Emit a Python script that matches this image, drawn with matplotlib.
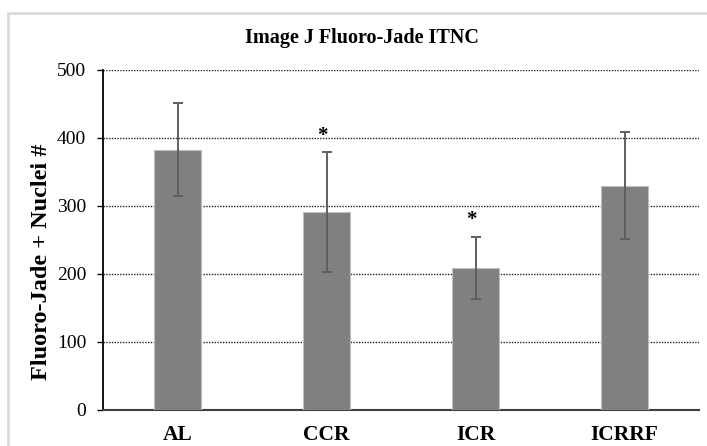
import matplotlib
matplotlib.use("Agg")
import matplotlib.pyplot as plt
from matplotlib.patches import Rectangle
import numpy as np

categories = ["AL", "CCR", "ICR", "ICRRF"]
means = [383, 291, 209, 330]
errors = [69, 88, 46, 79]
significant = [False, True, True, False]
yticks = [0, 100, 200, 300, 400, 500]

title = "Image J Fluoro-Jade ITNC"
ylabel = "Fluoro-Jade + Nuclei #"

plt.rcParams['font.family'] = ['Liberation Serif', 'DejaVu Serif']

fig = plt.figure(figsize=(7.07, 4.46), dpi=100)
ax = fig.add_axes([103/707, 36/446, 596/707, 340/446])

x = np.arange(len(categories))
ax.bar(x, means, width=0.315, color='#808080', edgecolor='#bfbfbf',
       linewidth=0.8, zorder=3)
ax.errorbar(x, means, yerr=errors, fmt='none', ecolor='#5f5f5f',
            elinewidth=1.4, capsize=3.5, capthick=1.4, zorder=4)

for xi, m, e, s in zip(x, means, errors, significant):
    if s:
        ax.text(xi - 0.03, m + e + 24, "*", ha='center', va='center',
                fontsize=15, fontweight='bold', zorder=5)

ax.set_xlim(-0.5, len(categories) - 0.5)
ax.set_ylim(0, 500)
ax.set_yticks(yticks)
ax.set_xticks(x)
ax.set_xticklabels(categories, fontsize=15.5, fontweight='bold')
ax.tick_params(axis='x', length=0, pad=11)
ax.tick_params(axis='y', length=4, width=1, direction='out', pad=8,
               labelsize=14, color='black')

ax.yaxis.grid(True, linestyle=(0, (1, 1)), color='#222222', linewidth=1.0, zorder=0)
ax.set_axisbelow(True)
gl = ax.yaxis.get_gridlines()
gl[0].set_visible(False)

for side in ['top', 'right']:
    ax.spines[side].set_visible(False)
ax.spines['left'].set_color('black')
ax.spines['left'].set_linewidth(1.3)
ax.spines['bottom'].set_color('#404040')
ax.spines['bottom'].set_linewidth(1.5)

ax.set_ylabel(ylabel, fontsize=17.5, fontweight='bold')
ax.yaxis.set_label_coords(-0.085, 0.437)

fig.text(362/707, 1 - 38/446, title, ha='center', va='center',
         fontsize=14.5, fontweight='bold')

frame = Rectangle((8/707, -0.2), 1.2, (1 - 13/446) + 0.2, transform=fig.transFigure,
                  fill=False, edgecolor='#d9d9d9', linewidth=2, clip_on=False)
fig.patches.append(frame)

fig.savefig("out.png", dpi=100)
